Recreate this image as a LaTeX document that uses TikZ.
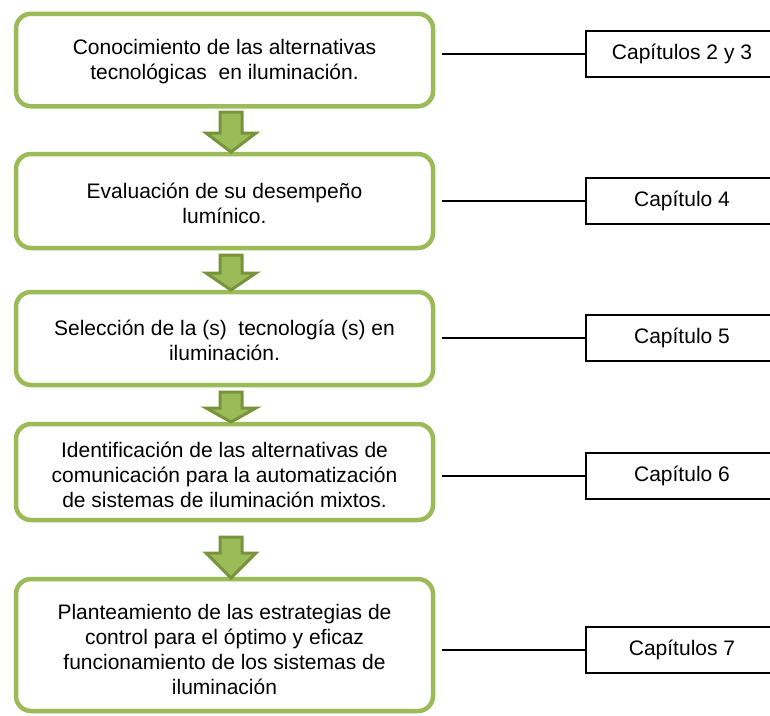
\documentclass[tikz,border=0pt]{standalone}
\usepackage{fontspec}
\setmainfont{Liberation Sans}
\definecolor{boxgreen}{HTML}{9BBB59}
\definecolor{arrowdark}{HTML}{77933C}
\begin{document}
\begin{tikzpicture}[x=1pt,y=-1pt,
  stepbox/.style={draw=boxgreen, line width=4.5pt, rounded corners=15pt, fill=white,
    minimum width=417pt, inner sep=0pt, align=center,
    font=\fontsize{21}{25}\selectfont},
  steptext/.style={align=center, inner sep=0pt, font=\fontsize{21}{25}\selectfont},
  chapbox/.style={draw=black, line width=1.3pt, minimum width=192pt, minimum height=46pt,
    inner sep=0pt, font=\fontsize{21}{25}\selectfont},
  link/.style={draw=black, line width=1.3pt},
  arrowsty/.style={fill=boxgreen, draw=arrowdark, line width=3pt, line join=miter}]
\useasboundingbox (0,0) rectangle (770,715);
\newcommand\dnarrow[3]{\draw[arrowsty] (220,#1) -- (242,#1) -- (242,#2) -- (256,#2) -- (231,#3) -- (206,#2) -- (220,#2) -- cycle;}

\node[stepbox, minimum height=92.5pt] (b1) at (224.5,60) {};
\node[stepbox, minimum height=94pt] (b2) at (224.5,201) {};
\node[stepbox, minimum height=93pt] (b3) at (224.5,338.5) {};
\node[stepbox, minimum height=96pt] (b4) at (224.5,472) {};
\node[stepbox, minimum height=132pt] (b5) at (224.5,645) {};

\node[steptext] (t1) at (224.5,62) {Conocimiento de las alternativas\\tecnológicas\ \ en iluminación.};
\node[steptext] (t2) at (224.5,203) {Evaluación de su desempeño\\lumínico.};
\node[steptext] (t3) at (224.5,340) {Selección de la (s)\ \ tecnología (s) en\\iluminación.};
\node[steptext] (t4) at (224.5,475) {Identificación de las alternativas de\\comunicación para la automatización\\de sistemas de iluminación mixtos.};
\node[steptext] (t5) at (224.5,649) {Planteamiento de las estrategias de\\control para el óptimo y eficaz\\funcionamiento de los sistemas de\\iluminación};

\dnarrow{112}{133}{152}
\dnarrow{255}{273}{290}
\dnarrow{392}{408}{422}
\dnarrow{537}{553}{578}

\node[chapbox] (c1) at (682,54) {Capítulos 2 y 3};
\node[chapbox] (c2) at (682,201) {Capítulo 4};
\node[chapbox] (c3) at (682,338) {Capítulo 5};
\node[chapbox] (c4) at (682,476) {Capítulo 6};
\node[chapbox] (c5) at (682,650) {Capítulos 7};

\foreach \i in {1,...,5}{
  \draw[link] ([xshift=7pt]b\i.east |- c\i.west) -- (c\i.west);
}
\end{tikzpicture}
\end{document}
